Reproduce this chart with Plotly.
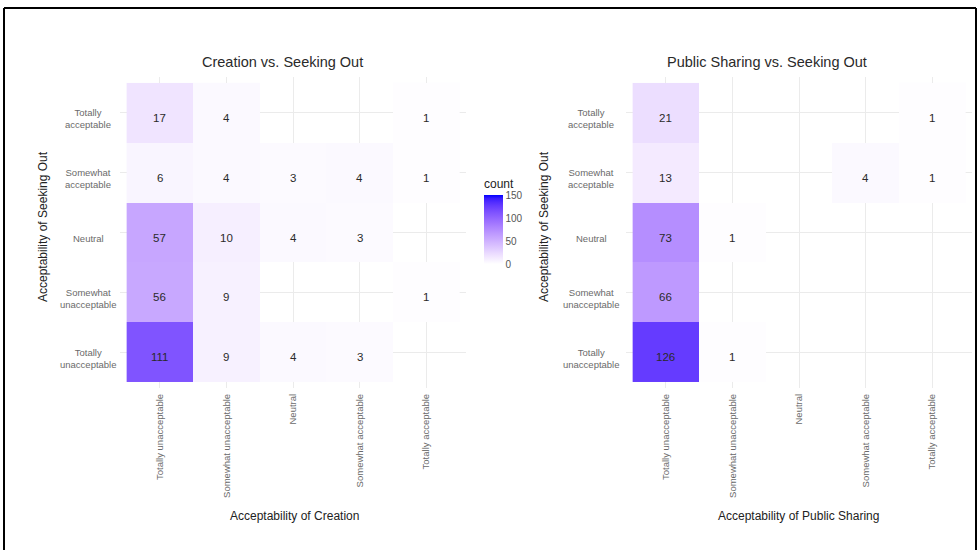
import plotly.graph_objects as go

# Response categories (ordered from least to most acceptable)
levels = ["Totally unacceptable", "Somewhat unacceptable", "Neutral",
          "Somewhat acceptable", "Totally acceptable"]
y_labels = ["Totally<br>unacceptable", "Somewhat<br>unacceptable", "Neutral",
            "Somewhat<br>acceptable", "Totally<br>acceptable"]

# Counts: rows = Acceptability of Seeking Out, columns = the other item
creation_counts = [
    [111, 9, 4, 3, None],     # Totally unacceptable
    [56, 9, None, None, 1],   # Somewhat unacceptable
    [57, 10, 4, 3, None],     # Neutral
    [6, 4, 3, 4, 1],          # Somewhat acceptable
    [17, 4, None, None, 1],   # Totally acceptable
]
sharing_counts = [
    [126, 1, None, None, None],
    [66, None, None, None, None],
    [73, 1, None, None, None],
    [13, None, None, 4, 1],
    [21, None, None, None, 1],
]

panel_titles = ["Creation vs. Seeking Out", "Public Sharing vs. Seeking Out"]
x_titles = ["Acceptability of Creation", "Acceptability of Public Sharing"]
y_title = "Acceptability of Seeking Out"

W, H = 979, 550
FONT = "Liberation Sans, Arial, sans-serif"


def px(x):
    return x / W


def py(y):
    return 1 - y / H


# white -> blue gradient interpolated in CIE Lab space
def _lin(c):
    c = c / 255
    return c / 12.92 if c <= 0.04045 else ((c + 0.055) / 1.055) ** 2.4


def _gam(c):
    c = 12.92 * c if c <= 0.0031308 else 1.055 * c ** (1 / 2.4) - 0.055
    return max(0, min(255, round(c * 255)))


WN = (0.95047, 1.0, 1.08883)


def rgb_to_lab(rgb):
    r, g, b = (_lin(v) for v in rgb)
    X = 0.4124564 * r + 0.3575761 * g + 0.1804375 * b
    Y = 0.2126729 * r + 0.7151522 * g + 0.0721750 * b
    Z = 0.0193339 * r + 0.1191920 * g + 0.9503041 * b
    d = 6 / 29

    def f(t):
        return t ** (1 / 3) if t > d ** 3 else t / (3 * d * d) + 4 / 29
    fx, fy, fz = f(X / WN[0]), f(Y / WN[1]), f(Z / WN[2])
    return 116 * fy - 16, 500 * (fx - fy), 200 * (fy - fz)


def lab_to_rgb(lab):
    L, a, bb = lab
    d = 6 / 29
    fy = (L + 16) / 116
    fx = fy + a / 500
    fz = fy - bb / 200

    def fi(t):
        return t ** 3 if t > d else 3 * d * d * (t - 4 / 29)
    X, Y, Z = fi(fx) * WN[0], fi(fy) * WN[1], fi(fz) * WN[2]
    r = 3.2404542 * X - 1.5371385 * Y - 0.4985314 * Z
    g = -0.9692660 * X + 1.8760108 * Y + 0.0415560 * Z
    b = 0.0556434 * X - 0.2040259 * Y + 1.0572252 * Z
    return tuple(_gam(min(1, max(0, v))) for v in (r, g, b))


lab_lo = rgb_to_lab((255, 255, 255))
lab_hi = rgb_to_lab((0, 0, 255))
colorscale = []
n_stops = 21
for i in range(n_stops):
    t = i / (n_stops - 1)
    lab = tuple(lo + (hi - lo) * t for lo, hi in zip(lab_lo, lab_hi))
    r, g, b = lab_to_rgb(lab)
    colorscale.append([t, f"rgb({r},{g},{b})"])

fig = go.Figure()

panels = [
    dict(counts=creation_counts, xd=(120, 466), xa="x", ya="y",
         title_x=282, xtitle_x=294, ytitle_x=43, ylab_x=88),
    dict(counts=sharing_counts, xd=(626, 972), xa="x2", ya="y2",
         title_x=767, xtitle_x=798, ytitle_x=544, ylab_x=591),
]
y_dom = (py(388), py(77))

annotations = []
for k, p in enumerate(panels):
    idx = list(range(len(levels)))
    fig.add_trace(go.Heatmap(
        z=p["counts"], x=idx, y=idx, coloraxis="coloraxis",
        xaxis=p["xa"], yaxis=p["ya"], hoverongaps=False,
    ))
    # cell labels
    for r, row in enumerate(p["counts"]):
        for c, v in enumerate(row):
            if v is None:
                continue
            annotations.append(dict(
                x=c, y=r, xref=p["xa"], yref=p["ya"], text=str(v),
                showarrow=False, yshift=-5,
                font=dict(family=FONT, size=11.5, color="#2a2a2a")))
    # y category labels (centred, two lines)
    for r, lab in enumerate(y_labels):
        annotations.append(dict(
            x=px(p["ylab_x"]), y=r, xref="paper", yref=p["ya"], text=lab,
            showarrow=False, xanchor="center", align="center", yshift=-6,
            font=dict(family=FONT, size=9.5, color="#6a6a6a")))
    # panel title
    annotations.append(dict(
        x=px(p["title_x"]), y=py(62), xref="paper", yref="paper",
        text=panel_titles[k], showarrow=False, xanchor="center",
        yanchor="middle", font=dict(family=FONT, size=14.5, color="#2a2a2a")))
    # x axis title
    annotations.append(dict(
        x=px(p["xtitle_x"]), y=py(516), xref="paper", yref="paper",
        text=x_titles[k], showarrow=False, xanchor="center",
        yanchor="middle", font=dict(family=FONT, size=12, color="#222")))
    # y axis title
    annotations.append(dict(
        x=px(p["ytitle_x"]), y=py(227), xref="paper", yref="paper",
        text=y_title, showarrow=False, textangle=-90, xanchor="center",
        yanchor="middle", font=dict(family=FONT, size=12, color="#222")))

axis_common = dict(showgrid=True, gridcolor="#ebebeb", gridwidth=1,
                   zeroline=False, showline=False)
for k, p in enumerate(panels):
    sfx = "" if k == 0 else str(k + 1)
    fig.layout["xaxis" + sfx] = dict(
        domain=[px(p["xd"][0]), px(p["xd"][1])], range=[-0.6, 4.6],
        anchor="y" + sfx, tickmode="array", tickvals=list(range(5)),
        ticktext=levels, tickangle=-90, ticks="", ticklabelstandoff=3,
        tickfont=dict(family=FONT, size=9.5, color="#6a6a6a"),
        **axis_common)
    fig.layout["yaxis" + sfx] = dict(
        domain=list(y_dom), range=[-0.6, 4.6], anchor="x" + sfx,
        tickmode="array", tickvals=list(range(5)), showticklabels=False,
        ticks="", **axis_common)

fig.update_layout(
    width=W, height=H,
    margin=dict(l=0, r=0, t=0, b=0),
    paper_bgcolor="white", plot_bgcolor="white",
    showlegend=False,
    annotations=annotations,
    coloraxis=dict(
        colorscale=colorscale, cmin=0, cmax=150,
        colorbar=dict(
            title=dict(text="count", side="top",
                       font=dict(family=FONT, size=12, color="#222")),
            x=px(484), xanchor="left", y=py(176), yanchor="top",
            lenmode="pixels", len=88, thickness=19,
            tickvals=[0, 50, 100, 150], ticks="", outlinewidth=0,
            xpad=0, ypad=0,
            tickfont=dict(family=FONT, size=10, color="#555"))),
    shapes=[
        dict(type="line", xref="paper", yref="paper", x0=px(4), x1=px(4),
             y0=py(8), y1=py(552), line=dict(color="black", width=2)),
        dict(type="line", xref="paper", yref="paper", x0=px(4), x1=px(976),
             y0=py(8), y1=py(8), line=dict(color="black", width=2)),
        dict(type="line", xref="paper", yref="paper", x0=px(976), x1=px(976),
             y0=py(8), y1=py(552), line=dict(color="black", width=2)),
    ],
)

fig.write_html("out.html")
